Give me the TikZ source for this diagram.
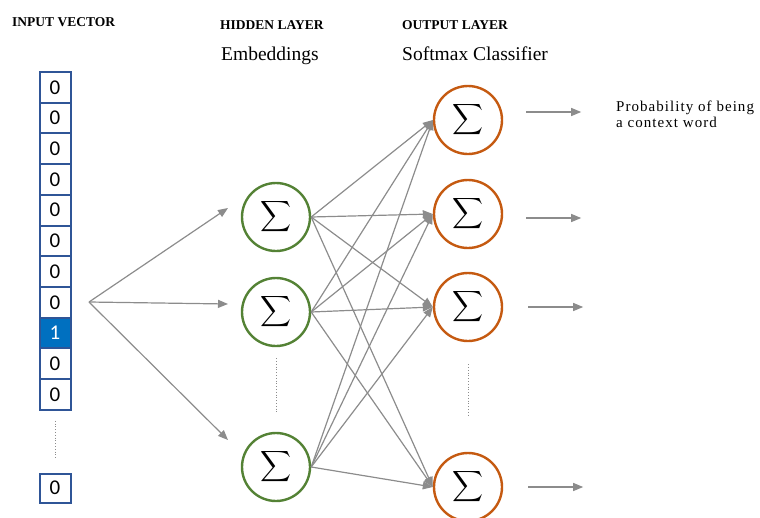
\documentclass[tikz,border=0pt]{standalone}
\usepackage{fontspec}
\usepackage{graphicx}
\setmainfont{Liberation Serif}
\newfontfamily\digitfont{Carlito}
\newfontfamily\probfont[LetterSpace=7]{Liberation Serif}
\usetikzlibrary{arrows.meta, positioning}

\definecolor{cellblue}{HTML}{2F5597}
\definecolor{hotblue}{HTML}{0070C0}
\definecolor{hidgreen}{HTML}{548235}
\definecolor{outorange}{HTML}{C55A11}
\definecolor{wiregray}{HTML}{8C8C8C}

\newcommand{\bigsum}{\scalebox{2.15}{$\displaystyle\sum$}}

\begin{document}
\begin{tikzpicture}[x=1pt, y=-1pt,
    cell/.style={rectangle, minimum width=31pt, minimum height=30.7pt, inner sep=0pt, draw=cellblue, line width=2pt, fill=white, font=\digitfont\fontsize{21}{21}\selectfont},
    hot/.style={cell, fill=hotblue, text=white},
    hidden/.style={circle, minimum size=68pt, inner sep=0pt, draw=hidgreen, line width=2.4pt},
    output/.style={circle, minimum size=68pt, inner sep=0pt, draw=outorange, line width=2.4pt},
    title/.style={anchor=base west, inner sep=0pt, font=\bfseries\fontsize{13.5}{14}\selectfont},
    subtitle/.style={anchor=base west, inner sep=0pt, font=\fontsize{19.5}{20}\selectfont},
    arrow/.style={-{Triangle[length=10pt, width=8pt]}, color=wiregray, line width=1.2pt},
    dots/.style={dotted, draw=wiregray, line width=0.8pt}
]
    \useasboundingbox (0,0) rectangle (760,517);

    % Headings
    \node[title] (in_title) at (12, 26.7) {INPUT VECTOR};
    \node[title] (hid_title) at (220, 29) {HIDDEN LAYER};
    \node[title] (out_title) at (402, 29) {OUTPUT LAYER};
    \node[subtitle] (hid_sub) at (221, 60) {Embeddings};
    \node[subtitle] (out_sub) at (402, 60) {Softmax Classifier};

    % Input vector
    \node[cell] (in1) at (55, 87.4) {0};
    \node[cell] (in2) at (55, 118.1) {0};
    \node[cell] (in3) at (55, 148.8) {0};
    \node[cell] (in4) at (55, 179.5) {0};
    \node[cell] (in5) at (55, 210.2) {0};
    \node[cell] (in6) at (55, 240.9) {0};
    \node[cell] (in7) at (55, 271.6) {0};
    \node[cell] (in8) at (55, 302.3) {0};
    \node[hot] (in9) at (55, 333.0) {1};
    \node[cell] (in10) at (55, 363.7) {0};
    \node[cell] (in11) at (55, 394.4) {0};
    \node[cell, minimum height=29pt] (in_last) at (55, 488) {0};

    % Hidden layer
    \node[hidden] (hid1) at (276, 217) {\bigsum};
    \node[hidden] (hid2) at (276, 312) {\bigsum};
    \node[hidden] (hid3) at (276, 467) {\bigsum};

    % Output layer
    \node[output] (out1) at (468, 120) {\bigsum};
    \node[output] (out2) at (468, 214) {\bigsum};
    \node[output] (out3) at (468, 307) {\bigsum};
    \node[output] (out4) at (468, 487) {\bigsum};

    \node[anchor=base west, inner sep=0pt, align=left, font=\probfont\fontsize{15}{16}\selectfont] (prob) at (616, 127) {Probability of being\\a context word};

    % Dotted gaps
    \draw[dots, shorten <=10pt, shorten >=13pt] (in11.south) -- (in_last.north);
    \draw[dots, shorten <=11pt, shorten >=20pt] (hid2.south) -- (hid3.north);
    \draw[dots, shorten <=22pt, shorten >=35pt] (out3.south) -- (out4.north);

    % Input to hidden
    \coordinate (split) at (89, 302);
    \coordinate (to_h1) at (228, 208);
    \coordinate (to_h2) at (228, 304);
    \coordinate (to_h3) at (228, 440);
    \draw[arrow] (split) -- (to_h1);
    \draw[arrow] (split) -- (to_h2);
    \draw[arrow] (split) -- (to_h3);

    % Hidden to output
    \draw[arrow] (hid1.east) -- (out1.west);
    \draw[arrow] (hid1.east) -- (out2.west);
    \draw[arrow] (hid1.east) -- (out3.west);
    \draw[arrow] (hid1.east) -- (out4.west);
    \draw[arrow] (hid2.east) -- (out1.west);
    \draw[arrow] (hid2.east) -- (out2.west);
    \draw[arrow] (hid2.east) -- (out3.west);
    \draw[arrow] (hid2.east) -- (out4.west);
    \draw[arrow] (hid3.east) -- (out1.west);
    \draw[arrow] (hid3.east) -- (out2.west);
    \draw[arrow] (hid3.east) -- (out3.west);
    \draw[arrow] (hid3.east) -- (out4.west);

    % Outputs
    \draw[arrow] ([shift={(23pt,8pt)}]out1.east) -- ++(55,0);
    \draw[arrow] ([shift={(23pt,-4pt)}]out2.east) -- ++(55,0);
    \draw[arrow] ([shift={(25pt,0pt)}]out3.east) -- ++(55,0);
    \draw[arrow] ([shift={(25pt,0pt)}]out4.east) -- ++(55,0);

\end{tikzpicture}
\end{document}
